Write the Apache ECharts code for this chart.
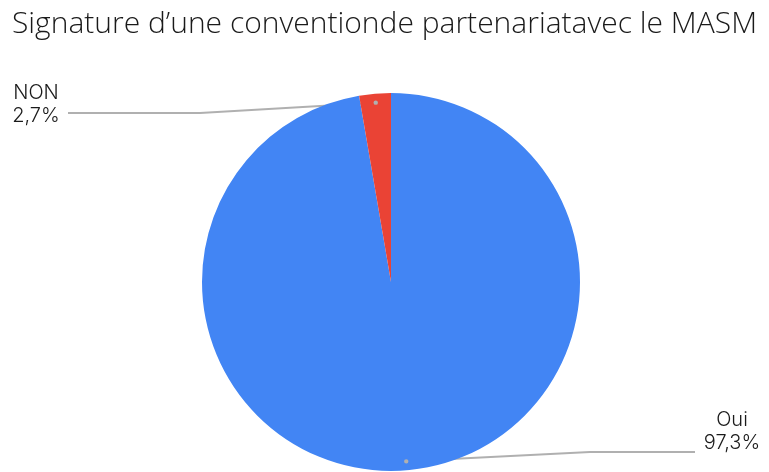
<!DOCTYPE html>
<html><head><meta charset="utf-8">
<script src="https://cdn.jsdelivr.net/npm/echarts@6/dist/echarts.min.js"></script>
<style>html,body{margin:0;padding:0;background:#fff}#c{width:769px;height:472px}</style>
</head><body><div id="c"></div>
<script>
const titleText = 'Signature d\u2019une conventionde partenariatavec le MASM';
const categories = ['Oui', 'NON'];
const values = [97.3, 2.7];
const colors = ['#4285f4', '#ea4335'];

const CX = 391, CY = 282, R = 189;
const chart = echarts.init(document.getElementById('c'));
const total = values.reduce((a, b) => a + b, 0);

function midPoint(i, r) {
  let acc = 0;
  for (let k = 0; k < i; k++) acc += values[k];
  const frac = (acc + values[i] / 2) / total;
  const a = frac * 2 * Math.PI; // clockwise from top
  return [CX + r * Math.sin(a), CY - r * Math.cos(a)];
}

const dots = categories.map((c, i) => {
  const p = midPoint(i, R - 9);
  return { type: 'circle', shape: { cx: p[0], cy: p[1], r: 2.2 }, style: { fill: '#b0b0b0' }, z: 100 };
});

chart.setOption({
  animation: false,
  title: {
    text: titleText, left: 'center', top: 4,
    textStyle: { fontFamily: 'Open Sans', fontWeight: 300, fontSize: 30, color: '#1a1a1a' }
  },
  graphic: dots,
  series: [{
    type: 'pie',
    center: [CX, CY],
    radius: R,
    startAngle: 90,
    clockwise: true,
    data: categories.map((c, i) => ({ name: c, value: values[i], itemStyle: { color: colors[i] } })),
    label: {
      show: true,
      formatter: p => p.name + '\n' + p.value.toFixed(1).replace('.', ',') + '%',
      fontFamily: 'Inter', fontWeight: 300, fontSize: 20, color: '#1a1a1a', lineHeight: 23, align: 'center'
    },
    labelLine: { show: true, lineStyle: { color: '#b0b0b0', width: 2 } },
    labelLayout: function (params) {
      const i = params.dataIndex;
      const s = midPoint(i, R - 9);
      if (i === 1) {
        return {
          x: 36, y: 104, align: 'center', verticalAlign: 'middle',
          labelLinePoints: [s, [200, 113], [68, 113]]
        };
      }
      return {
        x: 732, y: 431, align: 'center', verticalAlign: 'middle',
        labelLinePoints: [s, [590, 452], [695, 452]]
      };
    }
  }]
});
</script></body></html>
